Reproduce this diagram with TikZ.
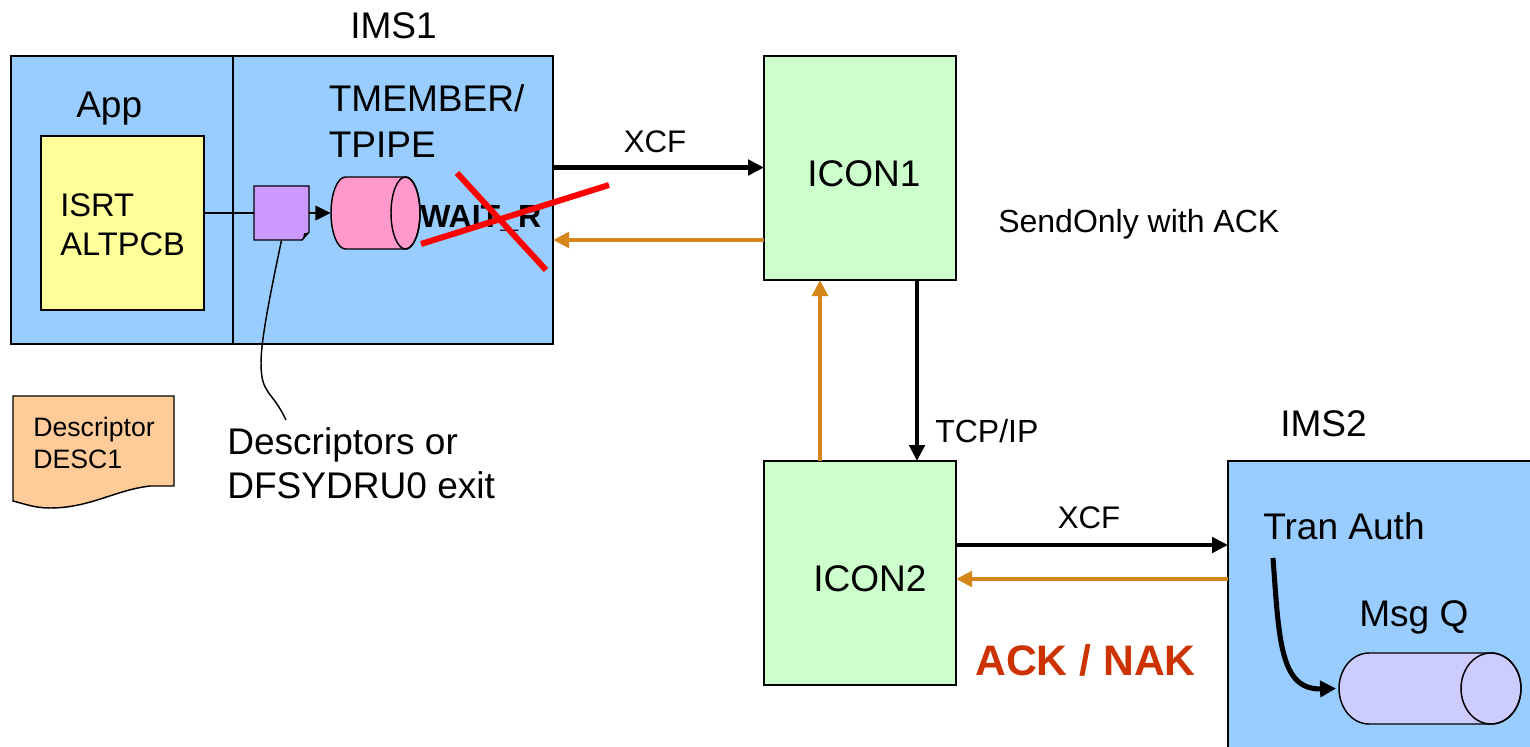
\documentclass[tikz,border=0pt]{standalone}
\usepackage{fontspec}
\setmainfont{Liberation Sans}
\usetikzlibrary{positioning}
\usetikzlibrary{arrows.meta}
\definecolor{imsblue}{HTML}{99CCFF}
\definecolor{appyellow}{HTML}{FFFF99}
\definecolor{icongreen}{HTML}{CCFFCC}
\definecolor{notepurple}{HTML}{CC99FF}
\definecolor{tpipepink}{HTML}{FF99CC}
\definecolor{msgqlav}{HTML}{CCCCFF}
\definecolor{descorange}{HTML}{FFCC99}
\definecolor{ackline}{HTML}{D4861A}
\definecolor{acktext}{HTML}{CC3300}
\tikzset{
  boxnode/.style={draw=black,line width=1.1pt,inner sep=0pt,outer sep=0pt,anchor=north west},
  bigtext/.style={anchor=base west,inner sep=0pt,align=left,font=\fontsize{27.8}{34}\selectfont},
  midtext/.style={anchor=base west,inner sep=0pt,align=left,font=\fontsize{24.5}{29}\selectfont},
  blacklink/.style={-{Triangle[length=12pt,width=11.5pt]},line width=3.6pt,black},
  acklink/.style={-{Triangle[length=12pt,width=11.5pt]},line width=3.6pt,ackline},
  redcross/.style={line width=4.5pt,red},
  drumline/.style={line width=1.1pt,draw=black}
}
\begin{document}
\begin{tikzpicture}[x=0.75pt,y=0.75pt,yscale=-1,xscale=1]
  \useasboundingbox (0,0) rectangle (1530,746);

  %Shape: IMS1 box
  \node (ims1) [boxnode,fill=imsblue,minimum width=406.5pt,minimum height=216pt] at (11,56) {};
  \node (divider) [inner sep=0pt] at (233,56) {};
  \draw [line width=1.1pt] (divider.center) -- (divider.center |- ims1.south);
  %Shape: App box
  \node (app) [boxnode,fill=appyellow,minimum width=122.25pt,minimum height=130.5pt] at (41,136) {};
  %Shape: ICON boxes
  \node (icon1) [boxnode,fill=icongreen,minimum width=144pt,minimum height=168pt] at (764,56) {};
  \node (icon2) [boxnode,fill=icongreen,minimum width=144pt,minimum height=168pt] at (764,461) {};
  %Shape: IMS2 box, runs off the page
  \node (ims2) [anchor=north west,fill=imsblue,inner sep=0pt,outer sep=0pt,minimum width=226.5pt,minimum height=214.5pt] at (1228,461) {};
  \draw [line width=1.1pt] (ims2.south west) -- (ims2.north west) -- (ims2.north east);

  %Shape: Note with folded corner
  \draw [line width=1.1pt,fill=notepurple] (254,186) -- (309,186) -- (309,232) -- (302,240) -- (254,240) -- cycle;
  \fill (303,239) -- (309,233) -- (304,233) -- cycle;
  \node (note) [inner sep=0pt,minimum width=41.25pt,minimum height=40.5pt] at (281.5,213) {};

  %Shape: Queue TPIPE
  \draw [drumline,fill=tpipepink] (345.5,177) arc [start angle=-90,end angle=-270,x radius=14.5,y radius=36] -- (405.5,249) arc [start angle=90,end angle=-90,x radius=14.5,y radius=36] -- cycle;
  \draw [drumline] (405.5,213) ellipse [x radius=14.5,y radius=36];
  \node (tpipe) [inner sep=0pt,minimum width=66.75pt,minimum height=54pt] at (375.5,213) {};
  %Shape: Queue Msg Q
  \draw [drumline,fill=msgqlav] (1369,653) arc [start angle=-90,end angle=-270,x radius=30,y radius=35.5] -- (1491,724) arc [start angle=90,end angle=-90,x radius=30,y radius=35.5] -- cycle;
  \draw [drumline] (1491,688.5) ellipse [x radius=30,y radius=35.5];
  \node (msgq) [inner sep=0pt,minimum width=136.5pt,minimum height=53.25pt] at (1430,688.5) {};

  %Shape: Descriptor document
  \draw [line width=1.1pt,fill=descorange] (13,396) -- (174,396) -- (174,486) -- (150,486) .. controls (115,490) and (90,508) .. (50,508) .. controls (35,508) and (25,504) .. (13,501) -- cycle;

  % Text Node
  \node (ims1lbl) [bigtext] at (350,38) {IMS1};
  \node (applbl) [bigtext] at (76,117) {App};
  \node (tmemberlbl) [bigtext] at (328.5,157) {TMEMBER/\\TPIPE};
  \node (isrtlbl) [midtext] at (60,255) {ISRT\\ALTPCB};
  \node (waitlbl) [midtext,font=\fontsize{24}{28}\selectfont\bfseries] at (420,227) {WAIT\_R};
  \node (icon1lbl) [bigtext] at (807,186) {ICON1};
  \node (icon2lbl) [bigtext] at (813,591) {ICON2};
  \node (sendlbl) [midtext,font=\fontsize{24}{28}\selectfont] at (998,232) {SendOnly with ACK};
  \node (tcplbl) [midtext,font=\fontsize{24}{28}\selectfont] at (935,442) {TCP/IP};
  \node (ims2lbl) [bigtext] at (1280,436) {IMS2};
  \node (tranlbl) [bigtext] at (1263,539) {Tran Auth};
  \node (msgqlbl) [bigtext] at (1359,626) {Msg Q};
  \node (xcfalbl) [midtext,font=\fontsize{23.4}{28}\selectfont] at (623.5,152) {XCF};
  \node (xcfblbl) [midtext,font=\fontsize{23.4}{28}\selectfont] at (1057.5,528) {XCF};
  \node (acklbl) [midtext,font=\fontsize{32}{38}\selectfont\bfseries,text=acktext] at (975,675) {ACK / NAK};
  \node (desclbl) [bigtext,font=\fontsize{27.8}{33}\selectfont] at (227,498) {Descriptors or\\DFSYDRU0 exit};
  \node (desc1lbl) [midtext,font=\fontsize{20}{23.5}\selectfont] at (33,468) {Descriptor\\DESC1};

  %Straight connectors
  \coordinate (xcfa) at (553,167.5);
  \coordinate (acka) at (553,240);
  \coordinate (tcp) at (917,280);
  \coordinate (ackb) at (820,280);
  \coordinate (xcfb) at (956,545);
  \coordinate (ackc) at (956,579);
  \draw [blacklink] (ims1.east |- xcfa) -- (icon1.west |- xcfa);
  \draw [acklink] (icon1.west |- acka) -- (ims1.east |- acka);
  \draw [blacklink] (icon1.south -| tcp) -- (icon2.north -| tcp);
  \draw [acklink] (icon2.north -| ackb) -- (icon1.south -| ackb);
  \draw [blacklink] (icon2.east |- xcfb) -- (ims2.west |- xcfb);
  \draw [acklink] (ims2.west |- ackc) -- (icon2.east |- ackc);
  \draw [line width=1.1pt] (app.east |- note.west) -- (note.west);
  \draw [-{Triangle[length=11.5pt,width=11pt]},line width=1.1pt] (note.east) -- (tpipe.west);

  %Curved connectors
  \coordinate (descend) at (286,420);
  \coordinate (transtart) at (1273,558);
  \draw [line width=1.1pt] (note.south) .. controls (270,295) and (261,340) .. (261,363) .. controls (261,395) and (272,390) .. (descend);
  \draw [-{Triangle[length=12pt,width=12pt]},line width=3.8pt] (transtart) .. controls (1279,640) and (1280,690) .. ([xshift=-2pt]msgq.west);

  %Shape: Red cross
  \draw [redcross] (421,244) -- (609,185);
  \draw [redcross] (457,173) -- (546,270);
\end{tikzpicture}
\end{document}
